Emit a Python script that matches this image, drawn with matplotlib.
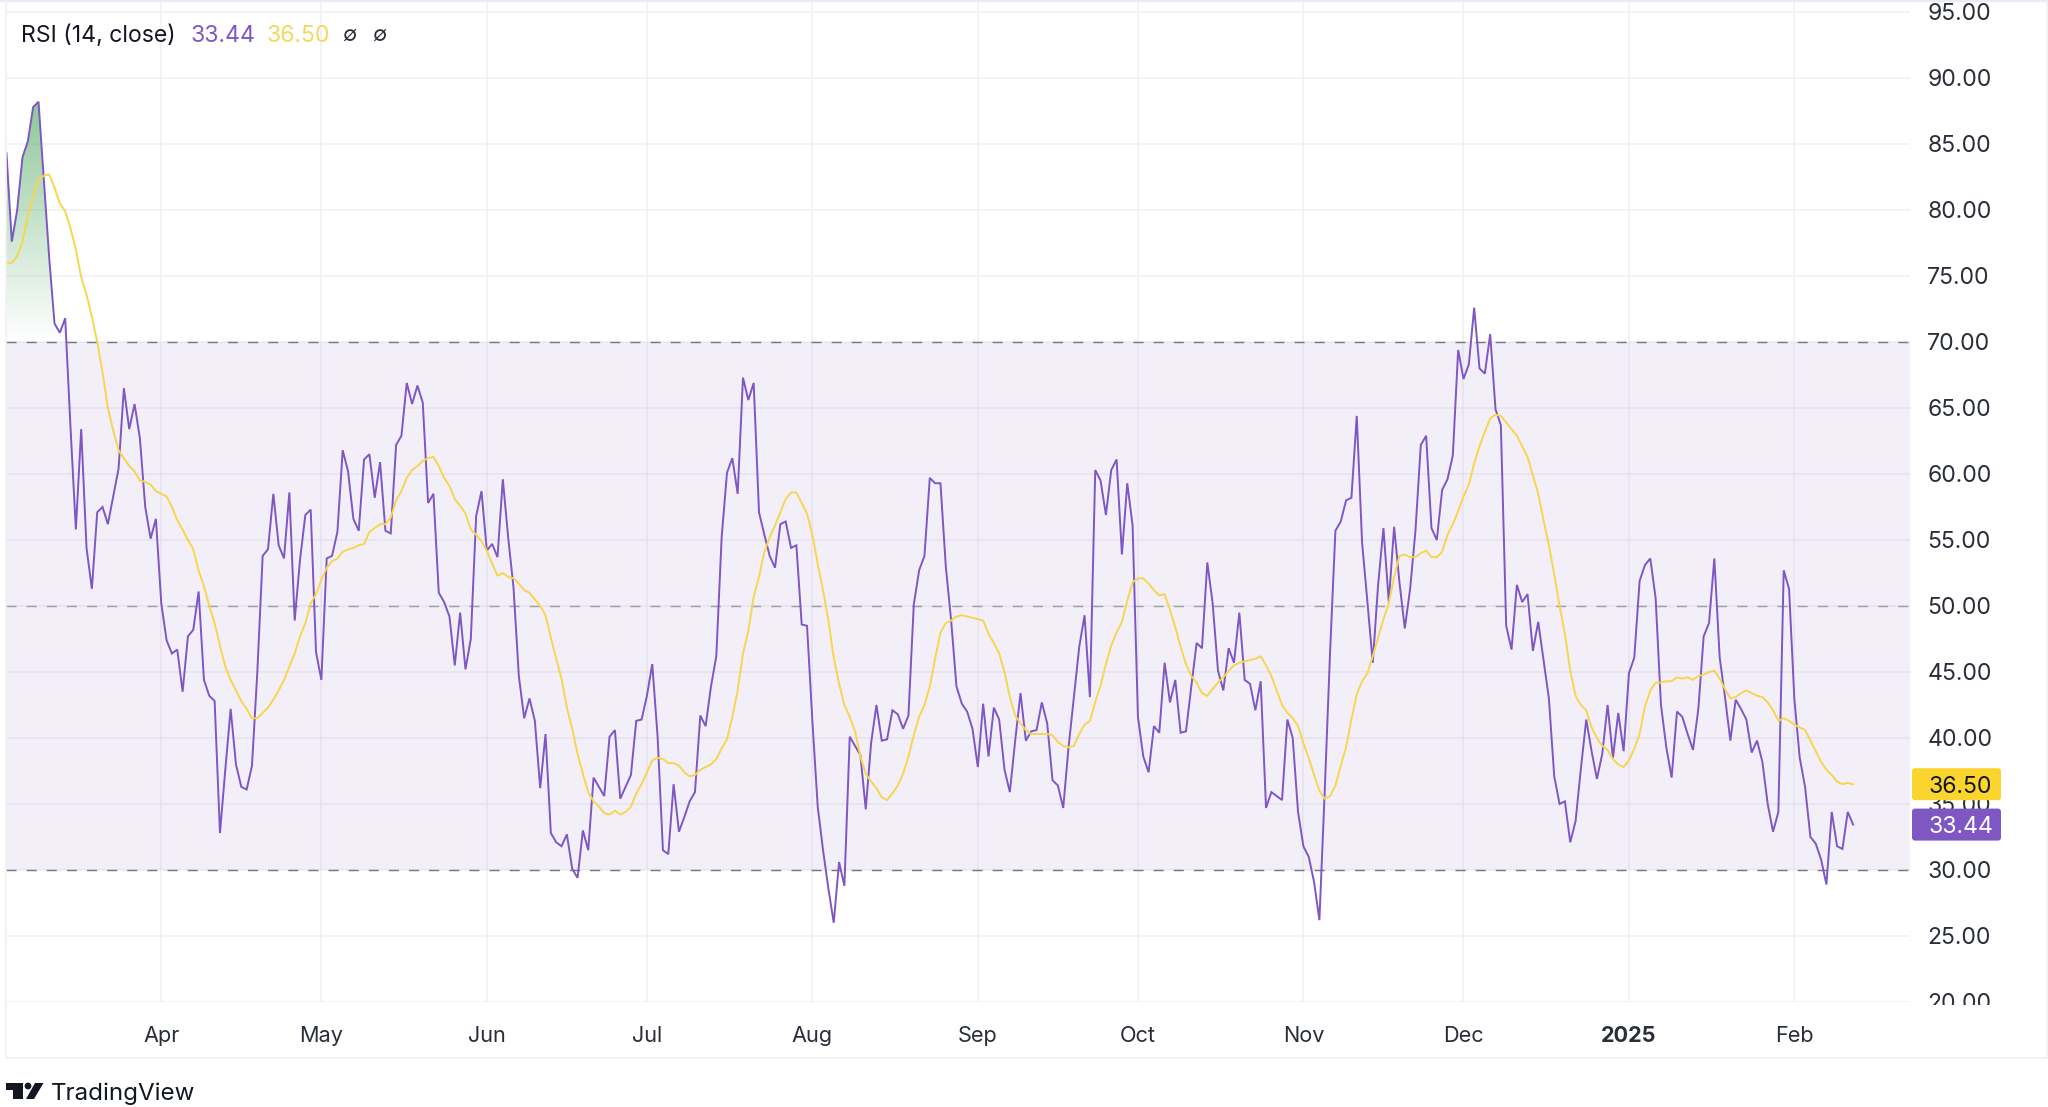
import numpy as np
import pandas as pd
import matplotlib
matplotlib.use("Agg")
import matplotlib.pyplot as plt
import matplotlib.dates as mdates
from matplotlib.patches import FancyBboxPatch, Polygon, Circle
from matplotlib.path import Path
from matplotlib.transforms import IdentityTransform, Bbox
from matplotlib.lines import Line2D
from matplotlib.colors import to_rgb

START_DATE = "2024-03-03"
rsi_values = [
84.3,77.6,80,84,85.2,87.8,88.2,82.3,76.4,71.4,
70.7,71.8,63.5,55.8,63.4,54.4,51.3,57.1,57.5,56.2,
58.3,60.4,66.5,63.4,65.3,62.7,57.5,55.1,56.6,50.2,
47.4,46.4,46.7,43.5,47.7,48.2,51.1,44.4,43.2,42.8,
32.8,37.6,42.2,38,36.3,36.1,37.9,45,53.8,54.3,
58.5,54.6,53.6,58.6,48.9,53.5,56.9,57.3,46.5,44.4,
53.6,53.8,55.6,61.8,60.2,56.6,55.7,61.1,61.5,58.2,
60.9,55.7,55.5,62.2,62.9,66.9,65.3,66.7,65.4,57.8,
58.5,51,50.3,49.2,45.5,49.5,45.2,47.5,56.8,58.7,
54.2,54.7,53.7,59.6,55.2,51.4,44.7,41.5,43,41.3,
36.2,40.3,32.8,32.1,31.8,32.7,30.1,29.4,33,31.5,
37,36.3,35.6,40.1,40.6,35.4,36.3,37.2,41.3,41.4,
43.2,45.6,40.1,31.5,31.2,36.5,32.9,34,35.2,35.9,
41.7,40.9,43.9,46.2,55.2,60.1,61.2,58.5,67.3,65.6,
66.9,57.1,55.4,53.8,52.9,56.2,56.4,54.4,54.6,48.6,
48.5,41.3,34.8,31.5,28.6,26,30.6,28.8,40.1,39.4,
38.7,34.6,39.6,42.5,39.8,39.9,42.1,41.8,40.7,41.7,
50.1,52.7,53.8,59.7,59.3,59.3,53,48.9,43.9,42.6,
42,40.7,37.8,42.6,38.6,42.3,41.4,37.6,35.9,39.8,
43.4,39.8,40.5,40.6,42.7,41.1,36.8,36.4,34.7,39.3,
43.1,46.9,49.3,43.1,60.3,59.5,56.9,60.3,61.1,53.9,
59.3,56.1,41.6,38.6,37.4,40.9,40.4,45.7,42.7,44.4,
40.4,40.5,43.9,47.2,46.8,53.3,50.2,45.1,43.6,46.8,
45.7,49.5,44.4,44.1,42.1,44.3,34.7,35.9,35.6,35.3,
41.4,40,34.4,31.8,31,29.1,26.2,36,46.5,55.7,
56.4,58,58.2,64.4,54.8,50.3,45.7,51.6,55.9,50.3,
56,51.8,48.3,51.3,55.7,62.2,62.9,55.9,55,58.8,
59.6,61.4,69.4,67.2,68.3,72.6,68,67.6,70.6,64.9,
63.7,48.5,46.7,51.6,50.3,50.9,46.6,48.8,45.9,43,
37.1,35,35.2,32.1,33.7,37.7,41.4,39,36.9,38.8,
42.5,38.5,41.9,39,44.9,46.1,51.9,53.1,53.6,50.6,
42.5,39.3,37,42,41.6,40.3,39.1,42.2,47.7,48.7,
53.6,46.1,43.1,39.8,42.9,42.2,41.4,38.9,39.8,38.2,
35,32.9,34.4,52.7,51.3,42.9,38.5,36.3,32.5,32,
30.8,28.9,34.4,31.8,31.6,34.4,33.44]
ma_values = [
76,76,76.5,77.6,79.5,81,82.3,82.6,82.7,81.7,
80.5,79.9,78.6,77,74.9,73.6,71.9,70,67.7,65,
63.3,61.8,61.2,60.6,60.2,59.5,59.4,59.2,58.7,58.5,
58.3,57.5,56.5,55.8,55,54.3,52.7,51.5,50,48.7,
47,45.4,44.4,43.6,42.8,42.2,41.5,41.5,41.9,42.3,
42.9,43.6,44.4,45.4,46.4,47.7,48.7,50.2,50.9,52,
52.9,53.4,53.6,54.1,54.3,54.4,54.6,54.7,55.6,55.9,
56.2,56.2,56.7,58,58.7,59.7,60.3,60.6,61,61.2,
61.3,60.6,59.7,59.1,58.1,57.6,57,55.8,55.4,54.9,
54.2,53.2,52.3,52.5,52.2,52.1,51.7,51.2,51,50.5,
50,49.3,47.6,46,44.5,42.3,40.7,38.8,37.3,35.9,
35.2,34.8,34.3,34.2,34.5,34.2,34.4,34.8,35.8,36.5,
37.4,38.3,38.5,38.4,38.1,38.1,37.9,37.4,37.1,37.2,
37.6,37.8,38,38.4,39.2,39.9,41.6,43.6,46.4,48.1,
50.7,52.2,54.1,55.2,56.1,57.1,58.1,58.6,58.6,57.8,
57,55.4,53.2,51.2,48.9,46.1,44.1,42.5,41.6,40.5,
38.6,37.3,36.7,36.2,35.5,35.3,35.8,36.4,37.3,38.6,
40.2,41.6,42.5,43.9,46,48,48.7,48.9,49.2,49.3,
49.2,49.1,49,48.9,47.9,47.2,46.4,45,43.1,41.7,
41.1,40.6,40.3,40.3,40.3,40.3,40.2,39.7,39.4,39.3,
39.4,40.3,41,41.3,42.7,44,45.6,47,48,48.8,
50.4,51.8,52.1,52.1,51.7,51.2,50.8,50.9,49.7,48.4,
46.9,45.6,44.7,44.2,43.4,43.2,43.7,44.2,44.6,45.1,
45.5,45.7,45.8,45.9,46,46.2,45.5,44.7,43.6,42.5,
41.9,41.5,40.9,39.6,38.5,37.2,36,35.4,35.6,36.4,
37.9,39.3,41.4,43.3,44.3,44.9,46.2,47.6,49,50.2,
52.2,53.8,53.9,53.7,53.7,54,54.2,53.7,53.7,54.1,
55.4,56.2,57.2,58.3,59.2,60.8,62.1,63.2,64.2,64.5,
64.4,63.9,63.4,62.9,62.1,61.3,59.9,58.5,56.5,54.6,
52.4,50,47.9,45.1,43.2,42.5,42.1,40.8,40,39.4,
39.1,38.4,38,37.8,38.3,39.2,40.3,42.4,43.6,44.2,
44.2,44.3,44.3,44.6,44.5,44.6,44.4,44.7,44.8,45,
45.1,44.5,43.7,43,43.1,43.4,43.6,43.4,43.2,43.1,
42.7,42.1,41.3,41.5,41.3,41,40.8,40.6,39.8,39,
38.2,37.6,37.2,36.7,36.5,36.6,36.5]
month_ticks = ["2024-04-01","2024-05-01","2024-06-01","2024-07-01","2024-08-01","2024-09-01",
               "2024-10-01","2024-11-01","2024-12-01","2025-01-01","2025-02-01"]
month_labels = ["Apr","May","Jun","Jul","Aug","Sep","Oct","Nov","Dec","2025","Feb"]
y_ticks = [20,25,30,35,40,45,50,55,60,65,70,75,80,85,90,95]
rsi_last, ma_last = rsi_values[-1], ma_values[-1]
legend_title = "RSI (14, close)"

PURPLE = "#7e57c2"; YELLOW = "#f7d64f"; BADGE_Y = "#fbd52d"
GRID = "#f0f0f3"; DASH = "#787b86"; TXT = "#2a2e39"
W, H = 2048, 1107
FONT = ["Inter", "DejaVu Sans"]
plt.rcParams["font.family"] = FONT

fig = plt.figure(figsize=(W/100, H/100), dpi=100, facecolor="white")
L, R, B, T = 6, 1910, 1002, 0
ax = fig.add_axes([L/W, 1-B/H, (R-L)/W, (B-T)/H])
x = mdates.date2num(pd.date_range(START_DATE, periods=len(rsi_values), freq="D"))
rsi = np.array(rsi_values); ma = np.array(ma_values)
day_px = 5.337
ax.set_xlim(x[0]-0.09, x[0]+(R-6.5)/day_px)
ax.set_ylim(20, 20+1002/13.2)
for s in ax.spines.values():
    s.set_visible(False)

xt = mdates.date2num(pd.to_datetime(month_ticks))
ax.set_xticks(xt); ax.set_xticklabels(month_labels)
ax.set_yticks(y_ticks); ax.set_yticklabels([f"{v:.2f}" for v in y_ticks])
ax.yaxis.tick_right()
ax.tick_params(axis="y", length=0, pad=12.5, labelsize=16.6, labelcolor=TXT)
ax.tick_params(axis="x", length=0, pad=17, labelsize=15.6, labelcolor=TXT)
ax.set_axisbelow(True)
ax.grid(True, color=GRID, lw=1.1)
for lab, name in zip(ax.get_xticklabels(), month_labels):
    if name == "2025":
        lab.set_fontweight("bold")
clip = Bbox([[1911, H-1005], [W, H]])
for lab in ax.get_yticklabels():
    lab.set_clip_box(clip); lab.set_clip_on(True)

ax.axhspan(30, 70, color=PURPLE, alpha=0.092, lw=0, zorder=1)
for lv, al in ((70, 1), (30, 1), (50, 0.65)):
    ax.axhline(lv, color=DASH, lw=1.05, alpha=al, dashes=(6.9, 6.9), zorder=1.5)

# gradient above the 70 level
poly = ax.fill_between(x, rsi, 70, where=rsi > 70, interpolate=True, color="none", lw=0)
path = Path.make_compound_path(*poly.get_paths())
grad = np.zeros((256, 2, 4))
grad[..., :3] = to_rgb("#4aa55a")
grad[..., 3] = np.linspace(0.62, 0.0, 256)[:, None]
im = ax.imshow(grad, extent=[x[0], x[-1], 70, rsi.max()], aspect="auto", origin="upper", zorder=2)
im.set_clip_path(path, transform=ax.transData)
ax.set_xlim(x[0]-0.09, x[0]+(R-6.5)/day_px)
ax.set_ylim(20, 20+1002/13.2)

ax.plot(x, rsi, color=PURPLE, lw=1.4, zorder=3, solid_joinstyle="miter")
ax.plot(x, ma, color=YELLOW, lw=1.4, zorder=3.1)

I = IdentityTransform()
def hline(y, x0, x1, c=GRID, lw=1.1):
    fig.add_artist(Line2D([x0, x1], [H-y, H-y], color=c, lw=lw, transform=I))
def vline(xp, y0, y1, c=GRID):
    fig.add_artist(Line2D([xp, xp], [H-y0, H-y1], color=c, lw=1.1, transform=I))
hline(1, 0, W, "#eceaf6", 1.6)
hline(1058, 6, W)
vline(5.5, 0, 1058)
vline(2047, 0, 1058)

# last-value badges
for val, col, tc in ((ma_last, BADGE_Y, "#131722"), (rsi_last, PURPLE, "#ffffff")):
    yc = ax.transData.transform((x[0], val))[1]
    fig.add_artist(FancyBboxPatch((1912, yc-16), 89, 32, boxstyle="round,pad=0,rounding_size=3",
                                  fc=col, ec="none", transform=I))
    fig.text(1928/W, yc/H, f"{val:.2f}", color=tc, fontsize=16.6, va="center_baseline", ha="left")

# legend row
def label(px, s, c, **k):
    fig.text(px/W, 1-33/H, s, color=c, va="center_baseline", ha="left", **k)
label(21, legend_title, "#131722", fontsize=16.6)
label(190, f"{rsi_last:.2f}", PURPLE, fontsize=16.6)
label(267, f"{ma_last:.2f}", "#f5d85e", fontsize=16.6)
label(342, "\u2205", "#2a2e39", fontsize=15)
label(372, "\u2205", "#2a2e39", fontsize=15)

# logo
def P(pts):
    fig.add_artist(Polygon([(a, H-b) for a, b in pts], closed=True, fc="#131722", ec="none", transform=I))
P([(6, 1083), (23, 1083), (23, 1099), (13, 1099), (13, 1090), (6, 1090)])
P([(35, 1083), (43.5, 1083), (34, 1099), (26, 1099)])
fig.add_artist(Circle((28, H-1086), 3.4, fc="#131722", ec="none", transform=I))
fig.text(51/W, 1-1094/H, "TradingView", color="#131722", fontsize=17.4, va="center", ha="left")

fig.savefig("out.png", dpi=100)
